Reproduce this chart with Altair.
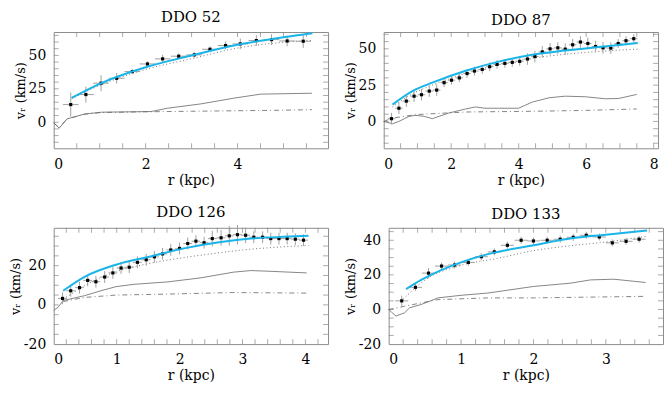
import altair as alt
import pandas as pd

FONT = "DejaVu Serif"
CYAN = "#1ab4e8"
GRAY = "#666666"

# ---------------- DDO 52 ----------------
p52_r = [0.37, 0.70, 1.03, 1.37, 1.71, 2.04, 2.37, 2.72, 3.06, 3.40, 3.74, 4.06, 4.41, 4.74, 5.08, 5.43]
p52_v = [13.2, 20.7, 29.2, 32.9, 37.9, 43.6, 47.4, 49.4, 50.4, 54.6, 57.4, 58.6, 61.1, 61.8, 60.8, 60.6]
p52_ev = [9, 6, 6, 4, 2, 2, 3, 2, 2, 2, 3, 4, 4, 4, 4, 5]
p52_er = 0.17
f52_r = [0.39, 1.0, 2.0, 3.0, 4.0, 5.0, 5.63]
f52_v = [18.2, 28.7, 41.1, 49.9, 57.9, 63.6, 66.6]
h52_r = [0.39, 1.0, 2.0, 3.0, 4.0, 5.0, 5.63]
h52_v = [17.5, 27.5, 39.5, 47.5, 55.5, 59.8, 61.2]
g52_r = [0.0, 0.12, 0.29, 0.68, 1.04, 2.12, 2.48, 3.2, 3.92, 4.5, 5.62]
g52_v = [-0.5, -4.5, 2.5, 6.2, 7.5, 8.0, 10.5, 13.7, 18.0, 21.0, 21.7]
s52_r = [0.0, 0.12, 0.29, 0.68, 1.04, 2.0, 3.0, 4.0, 5.0, 5.62]
s52_v = [-0.5, -4.0, 2.5, 6.0, 7.3, 7.8, 8.2, 8.6, 9.0, 9.4]

# ---------------- DDO 87 ----------------
p87_r = [0.23, 0.45, 0.67, 0.90, 1.12, 1.35, 1.57, 1.79, 2.01, 2.24, 2.47, 2.69, 2.92, 3.14, 3.36, 3.59, 3.81,
         4.03, 4.26, 4.48, 4.70, 4.93, 5.16, 5.38, 5.60, 5.83, 6.05, 6.28, 6.50, 6.73, 6.95, 7.18, 7.41]
p87_v = [1.9, 9.1, 14.0, 17.4, 18.4, 20.9, 21.6, 26.7, 28.4, 30.0, 33.0, 34.7, 35.8, 37.7, 39.3, 40.0, 40.7,
         41.4, 43.0, 44.7, 47.9, 50.0, 50.7, 49.8, 52.8, 54.7, 53.7, 51.6, 50.7, 50.5, 53.7, 55.6, 57.0]
p87_ev = [4, 4, 4, 4, 4, 4, 4, 3, 3, 3, 3, 3, 3, 3, 3, 3, 3,
          3, 4, 4, 4, 4, 4, 4, 4, 4, 4, 4, 4, 4, 3, 3, 3]
p87_er = 0.11
f87_r = [0.26, 0.85, 1.44, 2.43, 3.41, 4.40, 5.38, 6.37, 7.53]
f87_v = [11.6, 20.9, 26.7, 34.9, 41.2, 46.0, 48.8, 51.2, 54.0]
h87_r = [0.26, 0.85, 1.44, 2.43, 3.41, 4.40, 5.38, 6.37, 7.53]
h87_v = [10.0, 19.0, 25.0, 33.0, 39.0, 43.5, 46.3, 48.2, 49.8]
g87_r = [0.0, 0.26, 0.45, 0.75, 0.95, 1.2, 1.44, 1.64, 1.93, 2.43, 2.72, 3.0, 3.41, 4.0, 4.4, 4.9, 5.38, 5.98,
         6.57, 6.96, 7.5]
g87_v = [0.0, -1.6, 0.0, 3.5, 4.2, 3.5, 1.9, 3.5, 5.8, 8.6, 10.0, 9.1, 9.1, 9.1, 13.3, 16.3, 17.4, 17.0,
         15.6, 15.8, 18.6]
s87_r = [0.0, 0.26, 0.95, 2.43, 4.4, 6.0, 7.5]
s87_v = [0.0, 2.3, 4.7, 6.5, 7.0, 7.6, 8.6]

# ---------------- DDO 126 ----------------
p126_r = [0.14, 0.27, 0.41, 0.54, 0.67, 0.81, 0.94, 1.07, 1.20, 1.33, 1.47, 1.60, 1.73, 1.86, 2.00,
          2.13, 2.26, 2.39, 2.52, 2.66, 2.79, 2.92, 3.05, 3.18, 3.32, 3.45, 3.58, 3.71, 3.84, 3.97]
p126_v = [3.3, 7.2, 8.8, 12.5, 11.8, 14.2, 16.3, 18.8, 19.2, 21.7, 23.0, 24.5, 26.0, 28.0, 28.8,
          31.3, 32.5, 31.7, 33.8, 34.2, 35.2, 35.8, 35.5, 34.5, 34.5, 33.8, 33.8, 33.8, 33.5, 33.0]
p126_ev = [3, 3, 3, 3, 3, 3, 3, 3, 3, 3, 3, 3, 3, 3, 3,
           3, 3, 3, 4, 4, 5, 5, 4, 3, 3, 3, 3, 3, 3, 3]
p126_er = 0.07
f126_r = [0.15, 0.49, 0.99, 1.54, 2.07, 2.6, 3.13, 3.65, 4.05]
f126_v = [7.2, 14.3, 20.5, 24.7, 28.8, 31.8, 33.8, 34.7, 35.2]
h126_r = [0.15, 0.3, 0.5, 1.0, 1.5, 2.0, 2.5, 3.0, 3.5, 4.05]
h126_v = [3.0, 6.0, 10.0, 17.0, 21.0, 23.8, 26.0, 28.0, 29.3, 30.3]
g126_r = [0.0, 0.07, 0.15, 0.49, 0.75, 0.99, 1.28, 1.81, 2.34, 2.86, 3.13, 3.39, 4.02]
g126_v = [-2.8, -1.2, 2.2, 4.7, 7.2, 9.3, 10.5, 11.7, 13.8, 16.7, 17.5, 17.2, 16.3]
s126_r = [0.15, 0.49, 0.99, 1.81, 2.86, 4.02]
s126_v = [1.7, 3.8, 5.0, 5.5, 6.3, 6.0]

# ---------------- DDO 133 ----------------
p133_r = [0.18, 0.37, 0.55, 0.73, 0.91, 1.10, 1.28, 1.46, 1.64, 1.83, 2.00, 2.19, 2.37, 2.55, 2.73,
          2.91, 3.09, 3.28, 3.46]
p133_v = [5.0, 12.8, 21.0, 25.1, 25.7, 27.2, 30.5, 33.3, 37.1, 40.0, 39.6, 40.0, 40.6, 41.7, 42.9,
          41.9, 38.5, 39.4, 40.6]
p133_ev = [3, 2, 3, 2, 2, 2, 2, 2, 2, 2, 2, 2, 2, 2, 2, 2, 2, 2, 2]
p133_er = 0.09
f133_r = [0.24, 0.45, 0.68, 1.0, 1.37, 2.0, 2.51, 3.0, 3.57]
f133_v = [11.8, 17.1, 21.9, 27.2, 32.0, 37.1, 41.0, 43.2, 45.7]
h133_r = [0.2, 0.5, 1.0, 1.5, 2.0, 2.5, 3.0, 3.57]
h133_v = [6.0, 17.0, 25.5, 29.5, 34.0, 36.8, 39.0, 42.3]
g133_r = [0.0, 0.1, 0.22, 0.29, 0.45, 0.68, 1.0, 1.37, 2.0, 2.51, 2.79, 3.11, 3.55]
g133_v = [0.0, -3.8, -1.9, 1.0, 2.9, 6.7, 8.2, 9.5, 13.3, 15.2, 17.1, 17.5, 15.6]
s133_r = [0.0, 0.22, 0.68, 1.37, 2.0, 3.55]
s133_v = [0.0, 1.9, 5.7, 6.7, 6.7, 7.6]

W, H = 276, 117


def frange(a, b, s):
    out, i = [], 0
    while a + i * s <= b + 1e-9:
        out.append(round(a + i * s, 4))
        i += 1
    return out


def panel(name, pr, pv, pev, per, fr, fv, hr, hv, gr, gv, sr, sv,
          xdom, ydom, xmaj, ymaj, xmin_step, ymin_step):
    xs = alt.Scale(domain=xdom, nice=False, zero=False)
    ys = alt.Scale(domain=ydom, nice=False, zero=False)
    xax = alt.Axis(values=xmaj, title="r (kpc)", format="d")
    yax = alt.Axis(values=ymaj, title="vᵣ (km/s)",
                   labelExpr="datum.value < 0 ? '-' + (-datum.value) : '' + datum.value")

    def X(f="x"):
        return alt.X(f"{f}:Q", scale=xs, axis=xax, title="r (kpc)")

    def Y(f="y"):
        return alt.Y(f"{f}:Q", scale=ys, axis=yax, title="vᵣ (km/s)")

    pts = pd.DataFrame({"x": pr, "y": pv, "ev": pev})
    pts["ylo"] = pts["y"] - pts["ev"]
    pts["yhi"] = pts["y"] + pts["ev"]
    pts["xlo"] = pts["x"] - per
    pts["xhi"] = pts["x"] + per

    base = alt.Chart(pts)
    vbar = base.mark_rule(color="#a0a0a0", strokeWidth=1).encode(x=X(), y=Y("ylo"), y2="yhi")
    hbar = base.mark_rule(color="#a0a0a0", strokeWidth=1).encode(x=X("xlo"), x2="xhi", y=Y())
    dots = base.mark_square(color="black", size=10, opacity=1).encode(x=X(), y=Y())

    def line(r, v, **kw):
        return alt.Chart(pd.DataFrame({"x": r, "y": v})).mark_line(**kw).encode(x=X(), y=Y())

    gas = line(gr, gv, color=GRAY, strokeWidth=0.8)
    star = line(sr, sv, color=GRAY, strokeWidth=0.8, strokeDash=[5, 3, 1, 3])
    halo = line(hr, hv, color=GRAY, strokeWidth=0.9, strokeDash=[1, 2.5], interpolate="monotone")
    fit = line(fr, fv, color=CYAN, strokeWidth=2, interpolate="monotone")

    xt = [v for v in frange(0, xdom[1], xmin_step) if xdom[0] < v < xdom[1]]
    yt = [v for v in frange(-100, 100, ymin_step) if ydom[0] < v < ydom[1]]
    xtd = pd.DataFrame({"x": xt})
    ytd = pd.DataFrame({"y": yt})
    tb = alt.Chart(xtd).mark_tick(color="#888", size=5, thickness=1).encode(x=X(), y=alt.value(H - 2.5))
    tt = alt.Chart(xtd).mark_tick(color="#888", size=5, thickness=1).encode(x=X(), y=alt.value(2.5))
    tl = alt.Chart(ytd).mark_tick(color="#888", size=5, thickness=1).encode(y=Y(), x=alt.value(2.5))
    tr = alt.Chart(ytd).mark_tick(color="#888", size=5, thickness=1).encode(y=Y(), x=alt.value(W - 2.5))

    return alt.layer(tb, tt, tl, tr, star, gas, halo, vbar, hbar, dots, fit).properties(
        width=W, height=H, title=name)


c52 = panel("DDO 52", p52_r, p52_v, p52_ev, p52_er, f52_r, f52_v, h52_r, h52_v, g52_r, g52_v, s52_r, s52_v,
            [0, 5.97], [-19.5, 67.5], [0, 2, 4], [0, 25, 50], 0.5, 5)
c87 = panel("DDO 87", p87_r, p87_v, p87_ev, p87_er, f87_r, f87_v, h87_r, h87_v, g87_r, g87_v, s87_r, s87_v,
            [0, 8.13], [-18.5, 61.6], [0, 2, 4, 6, 8], [0, 25, 50], 0.5, 5)
c126 = panel("DDO 126", p126_r, p126_v, p126_ev, p126_er, f126_r, f126_v, h126_r, h126_v, g126_r, g126_v,
             s126_r, s126_v, [0, 4.36], [-20, 39.3], [0, 1, 2, 3, 4], [-20, 0, 20], 0.2, 5)
c133 = panel("DDO 133", p133_r, p133_v, p133_ev, p133_er, f133_r, f133_v, h133_r, h133_v, g133_r, g133_v,
             s133_r, s133_v, [0, 3.79], [-20, 47.2], [0, 1, 2, 3], [-20, 0, 20, 40], 0.2, 5)

chart = alt.vconcat(
    alt.hconcat(c52, c87, spacing=14),
    alt.hconcat(c126, c133, spacing=14),
    spacing=17,
).properties(
    padding={"left": 0, "top": 0, "right": 0, "bottom": 0}
).configure_view(
    stroke="#8c8c8c", strokeWidth=1
).configure_axis(
    domain=False, grid=False, ticks=False, tickSize=0,
    labelFont=FONT, labelFontSize=14, labelColor="black",
    titleFont=FONT, titleColor="black", titleFontWeight="normal",
).configure_axisX(
    labelPadding=9, titlePadding=2, titleFontSize=14,
).configure_axisY(
    labelPadding=8, titlePadding=1, titleFontSize=13,
).configure_title(
    font=FONT, fontSize=15, fontWeight="normal", color="black", offset=4,
)

chart.save("out.html", embed_options={"renderer": "svg", "actions": False})
